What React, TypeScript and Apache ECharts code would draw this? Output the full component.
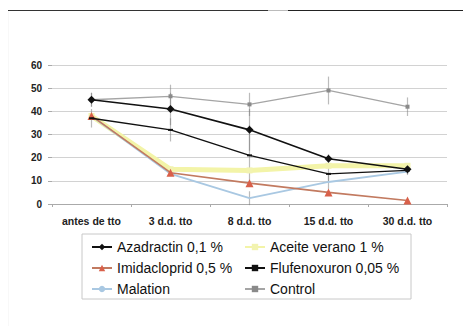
import React, { useEffect, useRef } from "react";
import * as echarts from "echarts";

const categories = ["antes de tto", "3 d.d. tto", "8 d.d. tto", "15 d.d. tto", "30 d.d. tto"];

const azadractin = [45, 41, 32, 19.5, 15];
const aceite = [38, 15, 14.5, 16.5, 16.5];
const imidacloprid = [38, 13.5, 9, 5, 1.5];
const flufenoxuron = [37, 32, 21, 13, 14.5];
const malation = [38, 13, 2.5, 9.5, 14];
const control = [45, 46.5, 43, 49, 42];

const controlErr = [3, 5, 5, 6, 4];
const azadractinErr = [3, 7, 9, 2, 2];
const flufenoxuronErr = [4, 5, 13, 3, 2];
const malationErr = [0, 0, 3, 3, 1];

export default function App() {
  const ref = useRef<HTMLDivElement>(null);
  useEffect(() => {
    const chart = echarts.init(ref.current!, null, { renderer: "svg" });
    const errData: number[][] = [];
    const addErr = (vals: number[], errs: number[]) => {
      vals.forEach((v, i) => {
        if (errs[i] > 0) errData.push([i, v - errs[i], v + errs[i]]);
      });
    };
    addErr(control, controlErr);
    addErr(azadractin, azadractinErr);
    addErr(flufenoxuron, flufenoxuronErr);
    addErr(malation, malationErr);

    const font = "Liberation Sans";
    const legendText = { fontFamily: font, fontSize: 14, color: "#111" };
    const errStroke = "rgba(120,120,120,0.5)";
    chart.setOption({
      animation: false,
      backgroundColor: "#fff",
      grid: { left: 52, right: 24, top: 65, bottom: 130 },
      xAxis: {
        type: "category",
        data: categories,
        boundaryGap: true,
        axisLine: { lineStyle: { color: "#aaa" } },
        axisTick: { show: true, lineStyle: { color: "#aaa" }, length: 3 },
        axisLabel: { fontFamily: font, fontSize: 10.5, fontWeight: "bold", color: "#222", margin: 11 },
      },
      yAxis: {
        type: "value",
        min: 0,
        max: 60,
        interval: 10,
        axisLine: { show: false },
        axisTick: { show: true, length: 4, lineStyle: { color: "#aaa" } },
        axisLabel: { fontFamily: font, fontSize: 10, fontWeight: "bold", color: "#222", margin: 10 },
        splitLine: { lineStyle: { color: "#d2d2d2" } },
      },
      legend: [
        {
          orient: "vertical",
          left: 86,
          top: 235,
          itemGap: 7,
          itemWidth: 20,
          itemHeight: 8,
          textStyle: legendText,
          data: ["Azadractin 0,1 %", "Imidacloprid 0,5 %", "Malation"],
        },
        {
          orient: "vertical",
          left: 239,
          top: 235,
          itemGap: 7,
          itemWidth: 20,
          itemHeight: 8,
          textStyle: legendText,
          data: ["Aceite verano 1 %", "Flufenoxuron 0,05 %", "Control"],
        },
      ],
      graphic: [
        { type: "rect", left: 6.5, top: 10, z: 100, shape: { x: 0, y: 0, width: 1.6, height: 324 }, style: { fill: "#b5b5b5" } },
        { type: "rect", left: 79.5, top: 231.5, z: 100, shape: { x: 0, y: 0, width: 329, height: 65 }, style: { fill: "none", stroke: "#c8c8c8", lineWidth: 1 } },
      ],
      series: [
        {
          type: "custom",
          silent: true,
          z: 1,
          data: errData,
          renderItem: (params: any, api: any) => {
            const x = api.value(0);
            const p1 = api.coord([x, api.value(1)]);
            const p2 = api.coord([x, api.value(2)]);
            return {
              type: "line",
              shape: { x1: p1[0], y1: p1[1], x2: p2[0], y2: p2[1] },
              style: { stroke: errStroke, lineWidth: 1.2 },
            };
          },
        },
        {
          name: "Control",
          type: "line",
          data: control,
          z: 2,
          symbol: "rect",
          symbolSize: 4,
          itemStyle: { color: "#8a8a8a" },
          lineStyle: { color: "#a5a5a5", width: 1.3 },
        },
        {
          name: "Aceite verano 1 %",
          type: "line",
          data: aceite,
          z: 3,
          symbol: "rect",
          symbolSize: [6, 6],
          itemStyle: { color: "#f2f3b0" },
          lineStyle: { color: "#f3f4a8", width: 5 },
        },
        {
          name: "Malation",
          type: "line",
          data: malation,
          z: 4,
          symbol: "none",
          itemStyle: { color: "#a9c8e2" },
          lineStyle: { color: "#a9c8e2", width: 1.8 },
        },
        {
          name: "Imidacloprid 0,5 %",
          type: "line",
          data: imidacloprid,
          z: 5,
          symbol: "triangle",
          symbolSize: 8,
          itemStyle: { color: "#d9604a" },
          lineStyle: { color: "#c27a60", width: 1.6 },
        },
        {
          name: "Flufenoxuron 0,05 %",
          type: "line",
          data: flufenoxuron,
          z: 6,
          symbol: "rect",
          symbolSize: [5, 2],
          itemStyle: { color: "#111" },
          lineStyle: { color: "#111", width: 1.4 },
        },
        {
          name: "Azadractin 0,1 %",
          type: "line",
          data: azadractin,
          z: 7,
          symbol: "diamond",
          symbolSize: 8,
          itemStyle: { color: "#111" },
          lineStyle: { color: "#111", width: 1.6 },
        },
      ],
    });
    return () => chart.dispose();
  }, []);
  return (
    <div style={{ margin: -8, position: "relative", width: 471, height: 334 }}>
      <div ref={ref} style={{ width: 471, height: 334 }} />
      <div
        style={{
          position: "absolute",
          left: 7,
          top: 10,
          width: 464,
          height: 1,
          background: "linear-gradient(to right, #333 0px, #333 261px, #bbb 261px, #bbb 281px, #222 281px)",
          zIndex: 5,
          pointerEvents: "none",
        }}
      />
    </div>
  );
}
